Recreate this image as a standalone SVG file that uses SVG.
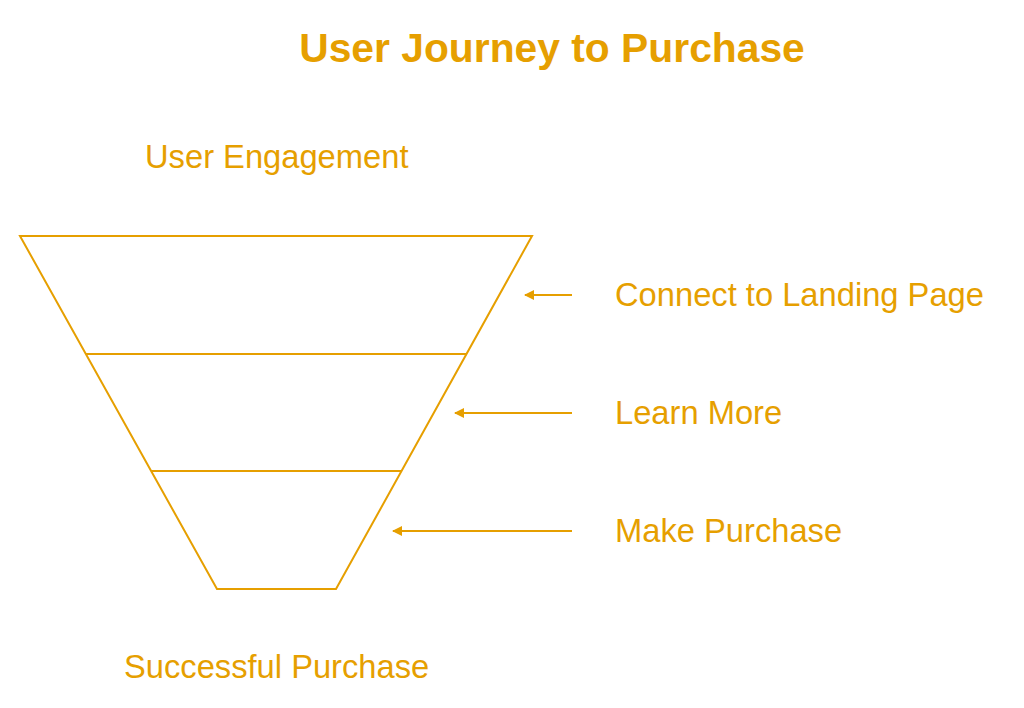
<svg xmlns="http://www.w3.org/2000/svg" width="1024" height="708" viewBox="0 0 1024 708">
<style>
.t{font-family:"Liberation Sans",Arial,sans-serif;fill:#E69F00;}
.lbl{font-size:32.7px;}
.title{font-size:40.8px;font-weight:bold;}
.ln{stroke:#E69F00;stroke-width:2;fill:none;}
</style>
<defs>
<marker id="ah" markerWidth="10" markerHeight="10" refX="9" refY="5" orient="auto" markerUnits="userSpaceOnUse">
<path d="M0,0 L10,5 L0,10 z" fill="#E69F00"/>
</marker>
</defs>
<rect width="1024" height="708" fill="#fff"/>
<g id="title"><text class="t title" x="552" y="62" text-anchor="middle">User Journey to Purchase</text></g>
<g id="funnel">
<path class="ln" d="M20,236 L532,236 L336,589 L217,589 Z"/>
<line class="ln" x1="86" y1="354" x2="466" y2="354"/>
<line class="ln" x1="151" y1="471" x2="401" y2="471"/>
</g>
<g id="top-label"><text class="t lbl" x="145" y="168">User Engagement</text></g>
<g id="bottom-label"><text class="t lbl" x="124" y="678">Successful Purchase</text></g>
<g id="stage1"><text class="t lbl" x="615" y="306">Connect to Landing Page</text></g>
<g id="stage2"><text class="t lbl" x="615" y="424">Learn More</text></g>
<g id="stage3"><text class="t lbl" x="615" y="542">Make Purchase</text></g>
<g id="connectors">
<line class="ln" x1="572" y1="295" x2="525" y2="295" marker-end="url(#ah)"/>
<line class="ln" x1="572" y1="413" x2="455" y2="413" marker-end="url(#ah)"/>
<line class="ln" x1="572" y1="531" x2="393" y2="531" marker-end="url(#ah)"/>
</g>
</svg>
